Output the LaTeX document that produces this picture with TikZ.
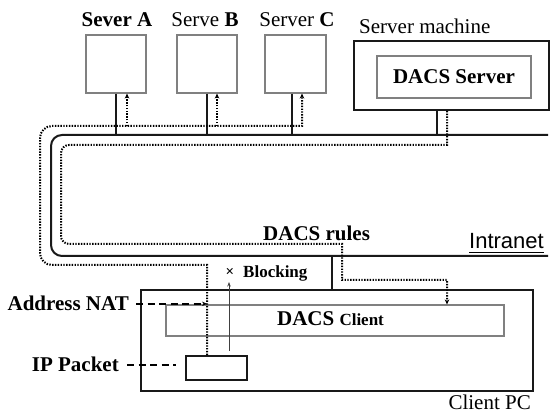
\documentclass[tikz,border=0pt]{standalone}
\usepackage{fontspec}
\setmainfont{Liberation Serif}
\newfontfamily\arialfont{Liberation Sans}
\usetikzlibrary{arrows.meta}
\begin{document}
\begin{tikzpicture}[x=1pt,y=-1pt,
  thinbox/.style={draw=black!50, line width=1.1pt, inner sep=0pt},
  thickbox/.style={draw=black!90, line width=1.8pt, inner sep=0pt},
  wire/.style={draw=black!90, line width=2pt},
  dots/.style={draw=black, line width=2pt, dash pattern=on 1.4pt off 1.4pt},
  dashline/.style={draw=black, line width=2.2pt, dash pattern=on 7pt off 4.5pt},
  tip/.style={-{Stealth[length=5pt,width=4.5pt]}},
  lbl/.style={font=\fontsize{21}{24}\selectfont, inner sep=0pt},
  small/.style={font=\fontsize{17}{20}\selectfont, inner sep=0pt}]
\useasboundingbox (0,0) rectangle (550,414);

% server boxes
\node[thinbox, minimum width=60pt, minimum height=58pt] (sa) at (116,64) {};
\node[thinbox, minimum width=60pt, minimum height=58pt] (sb) at (207,64) {};
\node[thinbox, minimum width=61pt, minimum height=58pt] (sc) at (295.5,64) {};
\node[lbl, anchor=base] (la) at (117,27) {\textbf{Sever A}};
\node[lbl, anchor=base] (lb) at (205,27) {Serve \textbf{B}};
\node[lbl, anchor=base] (lc) at (297,27) {Server \textbf{C}};

% server machine
\node[thickbox, minimum width=195pt, minimum height=69pt] (sm) at (451.5,75.5) {};
\node[lbl, anchor=base west] (lsm) at (359,34) {Server machine};
\node[thinbox, minimum width=154pt, minimum height=42pt, font=\fontsize{21}{24}\selectfont\bfseries] (ds) at (454,77) {DACS Server};

% client PC
\node[thickbox, minimum width=392pt, minimum height=101pt] (cpc) at (337,340.5) {};
\node[lbl, anchor=base east] (lcpc) at (531,410) {Client PC};
\node[thinbox, minimum width=338pt, minimum height=31pt] (dc) at (335,320.5) {};
\node[inner sep=0pt] (ldc) at (330.5,319) {\fontsize{21}{24}\selectfont\bfseries DACS \fontsize{17}{20}\selectfont Client};
\node[thickbox, minimum width=61pt, minimum height=24pt] (ip) at (216.5,368) {};

% intranet
\coordinate (nettop) at (0,135);
\coordinate (netbot) at (0,256);
\coordinate (netR1) at (548,135);
\coordinate (netR2) at (548,256);
\draw[wire, rounded corners=11pt] (netR1) -- (51,135) -- (51,256) -- (netR2);
\node[inner sep=0pt, anchor=base west, font=\arialfont\fontsize{22}{24}\selectfont] (intr) at (469,249) {Intranet};
\draw[line width=1.6pt] ([yshift=-3.5pt]intr.base west) -- ([yshift=-3.5pt]intr.base east);
\node[lbl, anchor=base west, font=\fontsize{21}{24}\selectfont\bfseries] (rules) at (263,241) {DACS rules};

% solid connections
\draw[wire] (sa.south) -- (sa.south |- nettop);
\draw[wire] (sb.south) -- (sb.south |- nettop);
\coordinate (cS) at ([xshift=-3.5pt]sc.south);
\draw[wire] (cS) -- (cS |- nettop);
\coordinate (smS) at ([xshift=-14.5pt]sm.south);
\draw[wire] (smS) -- (smS |- nettop);
\coordinate (cpcN) at ([xshift=-5pt]cpc.north);
\draw[wire] (cpcN) -- (cpcN |- netbot);

% outer dotted path (IP packet -> servers)
\coordinate (ipT) at ([xshift=-9.5pt]ip.north);
\coordinate (dA) at ([xshift=11pt]sa.south);
\coordinate (dB) at ([xshift=10pt]sb.south);
\coordinate (dC) at ([xshift=6.5pt]sc.south);
\draw[dots, tip] (ipT) -- (207,265) -- (52,265) .. controls (45.4,265) and (40,259.6) .. (40,253)
  -- (40,138) .. controls (40,131.4) and (45.4,126) .. (52,126) -- (302,126) -- (dC);
\draw[dots, tip] (dA |- 0,126) -- (dA);
\draw[dots, tip] (dB |- 0,126) -- (dB);

% inner dotted path (DACS server -> DACS client)
\coordinate (smD) at ([xshift=-4.5pt]sm.south);
\coordinate (dcN) at ([xshift=112pt]dc.north);
\draw[dots, tip] (smD) -- (447,145) -- (69,145) .. controls (64.6,145) and (61,148.6) .. (61,153)
  -- (61,236) .. controls (61,240.4) and (64.6,244) .. (69,244) -- (342,244) -- (342,280) -- (447,280) -- (dcN);

% blocking
\coordinate (blkS) at (229,351);
\coordinate (blkE) at (229,282);
\draw[draw=black!75, line width=0.9pt, -{Stealth[length=4.5pt,width=3.5pt]}] (blkS) -- (blkE);
\node[inner sep=0pt, font=\fontsize{15}{16}\selectfont\bfseries] (xmark) at (230,272) {×};
\node[small, anchor=base west, font=\fontsize{17}{20}\selectfont\bfseries] (blk) at (243,278) {Blocking};

% address NAT / IP packet labels
\node[lbl, anchor=base east, font=\fontsize{21}{24}\selectfont\bfseries] (anat) at (129,311) {Address NAT};
\draw[dashline, tip] ([xshift=7pt]anat.east) -- (anat.east -| ipT);
\node[lbl, anchor=base east, font=\fontsize{21}{24}\selectfont\bfseries] (ipl) at (119,372) {IP Packet};
\coordinate (ipw) at ([xshift=-9pt]ip.west);
\draw[dashline] ([xshift=8pt]ipl.east) -- (ipl.east -| ipw);
\end{tikzpicture}
\end{document}
